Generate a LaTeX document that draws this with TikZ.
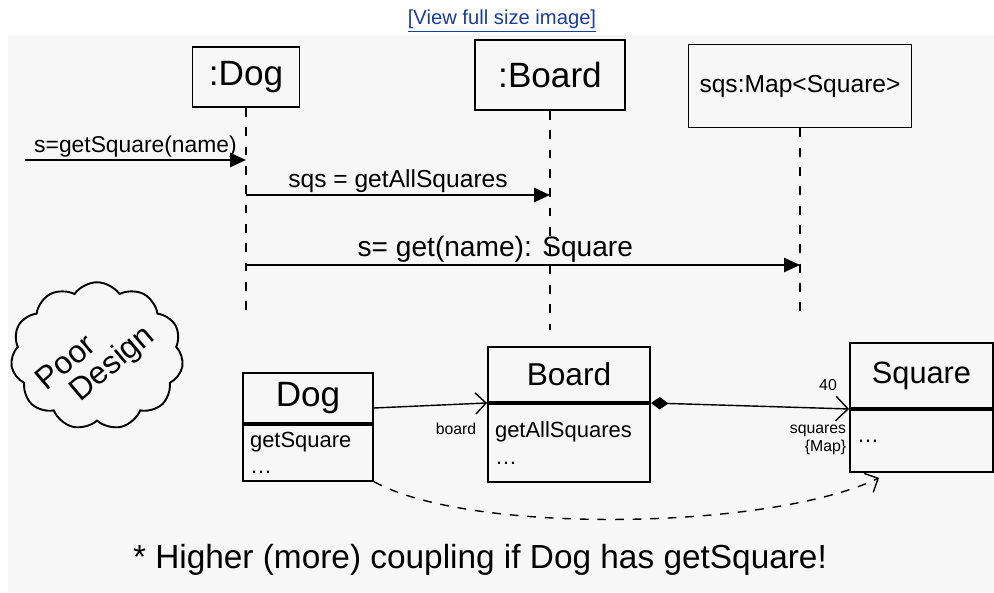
\documentclass[tikz,border=0pt]{standalone}
\usepackage{fontspec}
\setmainfont{Liberation Sans}
\usepackage{xcolor}
\usetikzlibrary{positioning,arrows.meta,shapes.symbols}
\definecolor{linkblue}{HTML}{1A3CA0}

\begin{document}
\begin{tikzpicture}[
	x=0.02cm,y=-0.02cm,
	objbox/.style={draw,line width=1.1pt,inner sep=0pt},
	lifeline/.style={line width=1pt,dash pattern=on 5pt off 6pt},
	msg/.style={line width=1pt,-{Triangle[length=9pt,width=8pt]}},
	msglabel/.style={inner sep=1pt,font=\fontsize{13}{15}\selectfont},
	classhead/.style={draw,line width=1.1pt,inner sep=0pt},
	classbody/.style={draw,line width=1.1pt,inner sep=4pt,align=left,font=\fontsize{12.5}{15}\selectfont},
	role/.style={inner sep=0pt,font=\fontsize{9}{10}\selectfont}
	]
	
	\useasboundingbox (0,0) rectangle (994,592);
	\fill[black!3] (8,35) rectangle (994,592);
	
	\node[
	text=linkblue,
	font=\fontsize{11.5}{14}\selectfont
	]
	(viewlink)
	at (502,21)
	{\underline{[View full size image]}};
	
	\node[
	objbox,
	minimum width=2.14cm,
	minimum height=1.2cm,
	font=\fontsize{20}{24}\selectfont
	]
	(dogobj)
	at (246,77)
	{:Dog};
	
	\node[
	objbox,
	minimum width=3cm,
	minimum height=1.4cm,
	font=\fontsize{20}{24}\selectfont
	]
	(boardobj)
	at (550,75)
	{:Board};
	
	\node[
	objbox,
	minimum width=4.46cm,
	minimum height=1.66cm,
	font=\fontsize{14}{17}\selectfont
	]
	(mapobj)
	at (800,86)
	{sqs:Map<Square>};
	
	\coordinate (dogend) at (246,318);
	\coordinate (boardend) at (550,330);
	\coordinate (mapend) at (800,315);
	
	\draw[lifeline] (dogobj.south) -- (dogend);
	\draw[lifeline] (boardobj.south) -- (boardend);
	\draw[lifeline] (mapobj.south) -- (mapend);
	
	\coordinate (callstart) at (25,160);
	\coordinate (dogm1) at (246,160);
	\coordinate (dogm2) at (246,195);
	\coordinate (boardm2) at (550,195);
	\coordinate (dogm3) at (246,265);
	\coordinate (mapm3) at (800,265);
	
	\draw[msg] (callstart) -- node[msglabel,above] (getsq) {s=getSquare(name)} (dogm1);
	\draw[msg] (dogm2) -- node[msglabel,above,font=\fontsize{14}{17}\selectfont] (getall) {sqs = getAllSquares} (boardm2);
	\draw[msg] (dogm3) -- node[msglabel,above,pos=0.45,font=\fontsize{16}{19}\selectfont] (getname) {s= get(name): Square} (mapm3);
	
	\node[
	cloud,
	cloud puffs=11,
	cloud puff arc=110,
	aspect=1.15,
	draw,
	line width=1.1pt,
	minimum width=3.45cm,
	minimum height=2.95cm,
	inner sep=0pt,
	font=\fontsize{18}{19}\selectfont
	]
	(poor)
	at (97,356)
	{\smash{\makebox[0pt]{\raisebox{-0.45\height}{\rotatebox{40}{\begin{tabular}{@{}l@{}}Poor\\[-2pt]\hspace{0.6em}Design\end{tabular}}}}}};
	
	\node[
	classhead,
	minimum width=2.6cm,
	minimum height=1cm,
	font=\fontsize{20}{24}\selectfont
	]
	(doghead)
	at (308,398)
	{Dog};
	
	\node[
	classbody,
	text width=2.6cm-8pt,
	minimum height=1.08cm,
	below=0pt of doghead
	]
	(dogbody)
	{getSquare\\\ldots};
	
	\node[
	classhead,
	minimum width=3.24cm,
	minimum height=1.1cm,
	font=\fontsize{18}{22}\selectfont
	]
	(boardhead)
	at (569,374.5)
	{Board};
	
	\node[
	classbody,
	text width=3.24cm-8pt,
	minimum height=1.56cm,
	below=0pt of boardhead
	]
	(boardbody)
	{getAllSquares\\\ldots};
	
	\node[
	classhead,
	minimum width=2.86cm,
	minimum height=1.3cm,
	font=\fontsize{17.5}{21}\selectfont
	]
	(squarehead)
	at (921.5,375.5)
	{Square};
	
	\node[
	classbody,
	text width=2.86cm-8pt,
	minimum height=1.24cm,
	below=0pt of squarehead
	]
	(squarebody)
	{\ldots};
	
	\draw[line width=0.8pt,-{Straight Barb[length=6pt]}] ([yshift=-0.2cm]doghead.east) -- (boardhead.south west);
	\draw[line width=0.8pt,{Diamond[length=10pt,width=7pt]}-{Straight Barb[length=7pt]}] (boardhead.south east) -- (squarehead.south west);
	
	\node[role] (boardrole) at (456,429) {board};
	\node[role] (mult) at (828,385) {40};
	\node[role,align=right] (sqsrole) at (818,440) {squares\\\{Map\}};
	
	\draw[line width=0.8pt,dash pattern=on 5pt off 5pt,-{Straight Barb[length=6pt]}] (dogbody.south east) .. controls (470,535) and (770,530) .. ([xshift=0.6cm,yshift=-0.1cm]squarebody.south west);
	
	\node[
	font=\fontsize{19}{23}\selectfont
	]
	(note)
	at (480,560)
	{* Higher (more) coupling if Dog has getSquare!};
	
\end{tikzpicture}
\end{document}
